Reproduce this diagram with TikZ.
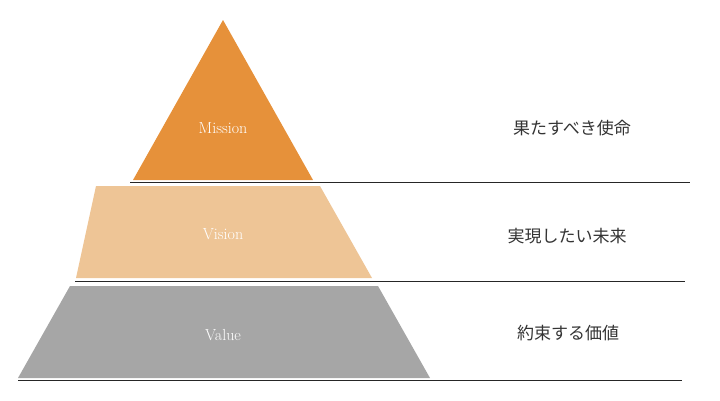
\documentclass[tikz,border=0pt]{standalone}
\usepackage{fontspec}
\newfontfamily\cjk{Noto Sans CJK JP}
\definecolor{missioncol}{HTML}{E6913A}
\definecolor{visioncol}{HTML}{EEC596}
\definecolor{valuecol}{HTML}{A6A6A6}
\begin{document}
\begin{tikzpicture}[x=1pt,y=-1pt,
    lvl/.style={text=white,font=\fontsize{16}{18}\selectfont},
    jp/.style={font=\cjk\fontsize{17}{20}\selectfont,text=black!80},
    sep/.style={draw=black!85,line width=0.6pt}]

        \useasboundingbox (0,0) rectangle (720,400);

        % Layers
        \fill[missioncol] (223,20) -- (313,180) -- (133,180) -- cycle;
        \fill[visioncol] (96,186) -- (320,186) -- (372,278) -- (76,278) -- cycle;
        \fill[valuecol] (70,286) -- (378,286) -- (430,378) -- (18,378) -- cycle;

        % Separators
        \coordinate (s1a) at (130,182);
        \coordinate (s1b) at (690,182);
        \coordinate (s2a) at (75,281);
        \coordinate (s2b) at (685,281);
        \coordinate (s3a) at (18,380);
        \coordinate (s3b) at (682,380);
        \draw[sep] (s1a) -- (s1b);
        \draw[sep] (s2a) -- (s2b);
        \draw[sep] (s3a) -- (s3b);

        \node[lvl] (mission) at (223,128) {Mission};
        \node[lvl] (vision) at (223,234) {Vision};
        \node[lvl] (value) at (223,335) {Value};

        \node[jp] (mjp) at (572,128) {果たすべき使命};
        \node[jp] (vjp) at (567,236) {実現したい未来};
        \node[jp] (ujp) at (568,333) {約束する価値};

\end{tikzpicture}
\end{document}
